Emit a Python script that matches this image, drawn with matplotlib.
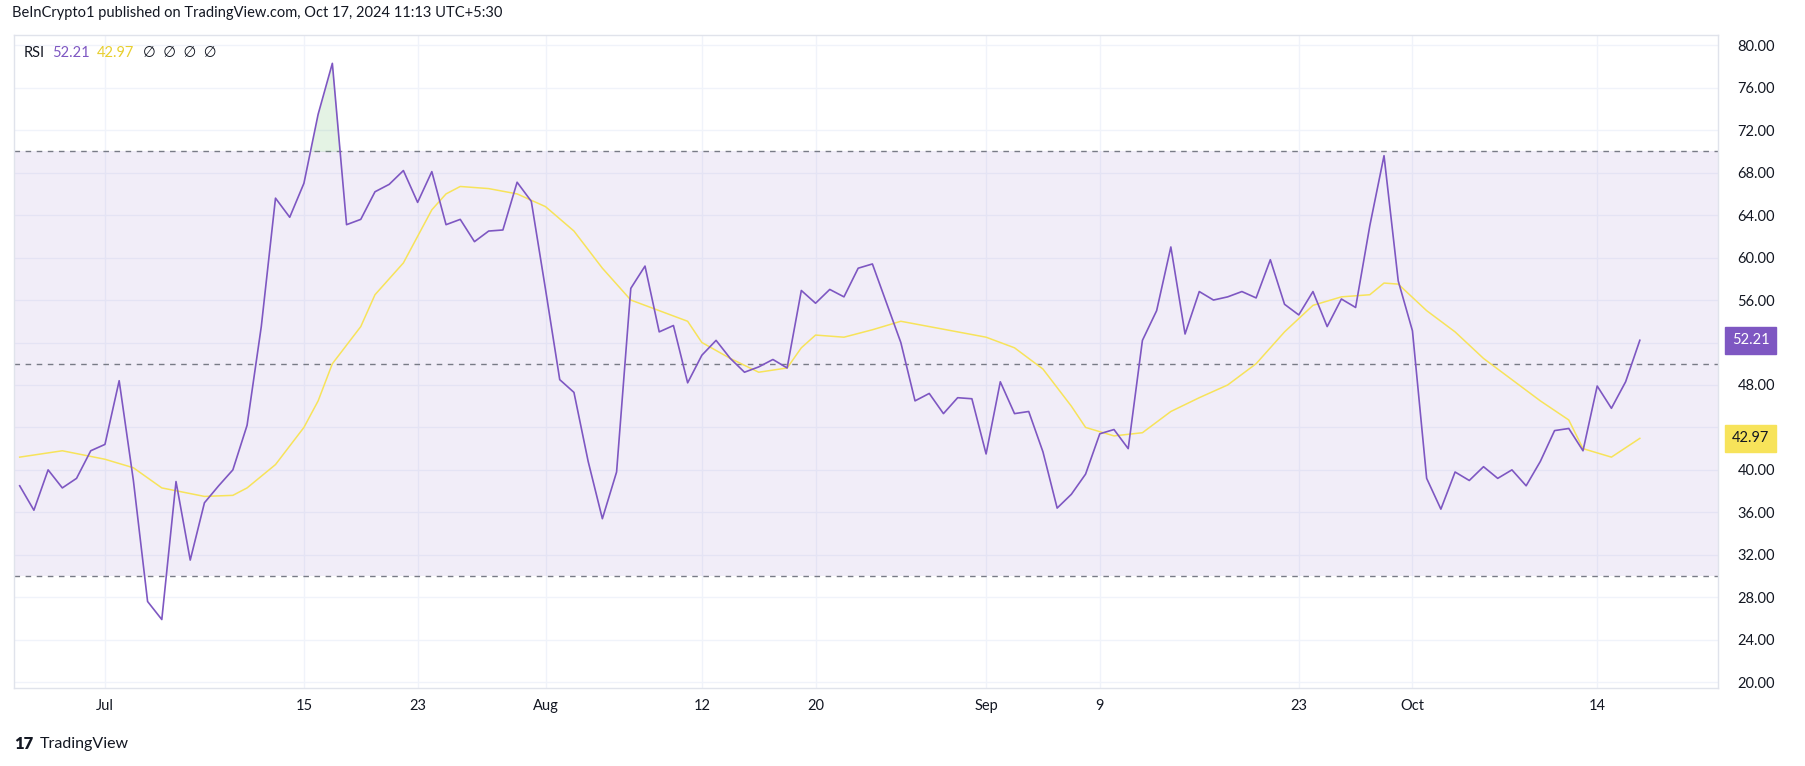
#!/usr/bin/env python3
# RSI chart, TradingView style
import numpy as np
import pandas as pd
import matplotlib
matplotlib.use("Agg")
import matplotlib.pyplot as plt

start = pd.Timestamp("2024-06-25")

# daily RSI values, Jun 25 .. Oct 17
rsi = [38.5, 36.2, 40.0, 38.3, 39.2, 41.8,
       42.4, 48.4, 39.0, 27.6, 25.9, 38.9, 31.5, 36.9, 38.5, 40.0, 44.2, 53.5, 65.6, 63.8,
       67.0, 73.5, 78.3, 63.1, 63.6, 66.2, 66.9, 68.2, 65.2, 68.1, 63.1, 63.6, 61.5, 62.5,
       62.6, 67.1, 65.3,
       57.0, 48.5, 47.3, 40.8, 35.4, 39.8, 57.1, 59.2, 53.0, 53.6, 48.2, 50.8, 52.2, 50.5,
       49.2, 49.7, 50.4, 49.6, 56.9, 55.7, 57.0, 56.3, 59.0, 59.4, 55.7, 52.0, 46.5, 47.2,
       45.3, 46.8, 46.7,
       41.5, 48.3, 45.3, 45.5, 41.7, 36.4, 37.7, 39.6, 43.4, 43.8, 42.0, 52.2, 55.0, 61.0,
       52.8, 56.8, 56.0, 56.3, 56.8, 56.2, 59.8, 55.6, 54.6, 56.8, 53.5, 56.1, 55.3, 63.0,
       69.6, 57.8,
       53.1, 39.2, 36.3, 39.8, 39.0, 40.3, 39.2, 40.0, 38.5, 40.8, 43.7, 43.9, 41.8, 47.9,
       45.8, 48.3, 52.21]

# moving average of RSI, read at selected dates
ma_dates = ["2024-06-25", "2024-06-28", "2024-07-01", "2024-07-03", "2024-07-05", "2024-07-08",
            "2024-07-10", "2024-07-11", "2024-07-13", "2024-07-15", "2024-07-16", "2024-07-17",
            "2024-07-19", "2024-07-20", "2024-07-22", "2024-07-23", "2024-07-24", "2024-07-25",
            "2024-07-26", "2024-07-28", "2024-07-30", "2024-08-01", "2024-08-03", "2024-08-05",
            "2024-08-07", "2024-08-09", "2024-08-11", "2024-08-12", "2024-08-14", "2024-08-16",
            "2024-08-18", "2024-08-19", "2024-08-20", "2024-08-22", "2024-08-24", "2024-08-26",
            "2024-08-28", "2024-08-30", "2024-09-01", "2024-09-03", "2024-09-05", "2024-09-07",
            "2024-09-08", "2024-09-10", "2024-09-12", "2024-09-14", "2024-09-16", "2024-09-18",
            "2024-09-20", "2024-09-22", "2024-09-24", "2024-09-26", "2024-09-28", "2024-09-29",
            "2024-09-30", "2024-10-02", "2024-10-04", "2024-10-06", "2024-10-08", "2024-10-10",
            "2024-10-12", "2024-10-13", "2024-10-15", "2024-10-17"]
ma_vals = [41.2, 41.8, 41.0, 40.2, 38.3, 37.5, 37.6, 38.3, 40.5, 44.0, 46.5, 50.0,
           53.5, 56.5, 59.5, 62.0, 64.5, 66.0, 66.7, 66.5, 66.0, 64.8, 62.5, 59.0,
           56.0, 55.0, 54.0, 52.0, 50.5, 49.2, 49.6, 51.5, 52.7, 52.5, 53.2, 54.0,
           53.5, 53.0, 52.5, 51.5, 49.5, 46.0, 44.0, 43.2, 43.5, 45.5, 46.8, 48.0,
           50.0, 53.0, 55.5, 56.3, 56.5, 57.6, 57.5, 55.0, 53.0, 50.5, 48.5, 46.5,
           44.7, 42.0, 41.2, 42.97]

tick_dates = ["2024-07-01", "2024-07-15", "2024-07-23", "2024-08-01", "2024-08-12",
              "2024-08-20", "2024-09-01", "2024-09-09", "2024-09-23", "2024-10-01", "2024-10-14"]
tick_labels = ["Jul", "15", "23", "Aug", "12", "20", "Sep", "9", "23", "Oct", "14"]
y_ticks = [20, 24, 28, 32, 36, 40, 44, 48, 52, 56, 60, 64, 68, 72, 76, 80]
hidden_y = [44, 52]  # covered by the value badges

PURPLE = "#7E57C2"
YELLOW = "#F7E35A"
TXT = "#131722"
GRID = "#F0F3FA"

x = np.arange(len(rsi))
rsi = np.array(rsi)
ma_x = np.array([(pd.Timestamp(d) - start).days for d in ma_dates])
tick_x = [(pd.Timestamp(d) - start).days for d in tick_dates]

plt.rcParams["font.family"] = ["Lato", "DejaVu Sans"]
fig = plt.figure(figsize=(18.05, 7.66), dpi=100)
ax = fig.add_axes([14 / 1805, 1 - 688 / 766, (1718 - 14) / 1805, (688 - 35) / 766])

ax.set_xlim(-0.4, 119.5)
ax.set_ylim(19.45, 80.97)

for t in tick_x:
    ax.axvline(t, color=GRID, lw=1, zorder=0)
for t in y_ticks:
    ax.axhline(t, color=GRID, lw=1, zorder=0)

ax.axhspan(30, 70, color=PURPLE, alpha=0.1, lw=0, zorder=1)
for lvl in (70, 50, 30):
    ax.axhline(lvl, color="#787B86", lw=1, ls=(0, (4, 4)), zorder=2)

# overbought fill
xf = np.linspace(x[0], x[-1], 4000)
yf = np.interp(xf, x, rsi)
ax.fill_between(xf, 70, yf, where=yf > 70, color="#4CAF50", alpha=0.15, lw=0, zorder=2)

ax.plot(ma_x, ma_vals, color=YELLOW, lw=1.1, zorder=3)
ax.plot(x, rsi, color=PURPLE, lw=1.2, zorder=4)

ax.set_xticks(tick_x)
ax.set_xticklabels(tick_labels)
ax.yaxis.tick_right()
ax.set_yticks(y_ticks)
ax.set_yticklabels(["" if v in hidden_y else f"{v:.2f}" for v in y_ticks])
ax.tick_params(axis="both", length=0, labelsize=10.5, colors=TXT, pad=8)
ax.tick_params(axis="y", pad=14)
for s in ax.spines.values():
    s.set_color("#E0E3EB")
    s.set_linewidth(1)

# value badges on the price scale
for val, col, tc in ((rsi[-1], PURPLE, "white"), (ma_vals[-1], YELLOW, TXT)):
    ax.annotate(f"{val:.2f}", xy=(1.0, val), xycoords=("axes fraction", "data"),
                xytext=(10, 0), textcoords="offset points", va="center", ha="left",
                fontsize=10.5, color=tc, zorder=10, annotation_clip=False,
                bbox=dict(boxstyle="square,pad=0.45", fc=col, ec=col))

# legend line
fig.text(24 / 1805, 1 - 53 / 766, "RSI", fontsize=10.5, color=TXT, va="center")
fig.text(52 / 1805, 1 - 53 / 766, f"{rsi[-1]:.2f}", fontsize=10.5, color=PURPLE, va="center")
fig.text(97 / 1805, 1 - 53 / 766, f"{ma_vals[-1]:.2f}", fontsize=10.5, color="#E8CF2E", va="center")
fig.text(143 / 1805, 1 - 53 / 766, "∅  ∅  ∅  ∅", fontsize=10.5, color=TXT, va="center")

fig.text(12 / 1805, 1 - 13 / 766, "BeInCrypto1 published on TradingView.com, Oct 17, 2024 11:13 UTC+5:30",
         fontsize=10.5, color=TXT, va="center")
fig.text(14 / 1805, 1 - 744 / 766, "17", fontsize=12, color=TXT, va="center", weight="heavy")
fig.text(40 / 1805, 1 - 744 / 766, "TradingView", fontsize=11.5, color=TXT, va="center")

fig.savefig("out.png", dpi=100, facecolor="white")
